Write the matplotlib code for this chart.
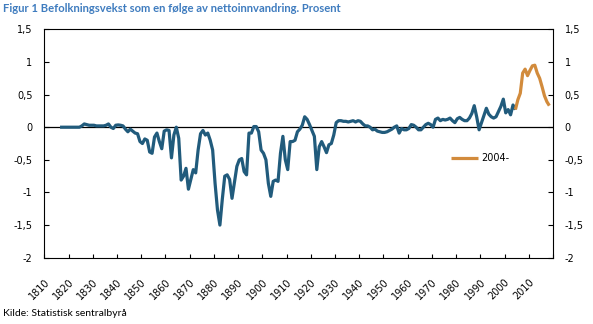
import matplotlib
matplotlib.use("Agg")
import matplotlib.pyplot as plt
import numpy as np

# Befolkningsvekst som følge av nettoinnvandring, prosent per år
years_hist = list(range(1816, 2005))
growth_hist = [
    # 1816-1829
    0.0, 0.0, 0.0, 0.0, 0.0, 0.0, 0.0, 0.0, 0.0, 0.02, 0.05, 0.04, 0.03, 0.03,
    # 1830-1839
    0.03, 0.02, 0.02, 0.02, 0.02, 0.03, 0.05, 0.0, -0.02, 0.03,
    # 1840-1849
    0.035, 0.03, 0.02, -0.03, -0.07, -0.03, -0.06, -0.09, -0.10, -0.22,
    # 1850-1859
    -0.25, -0.18, -0.20, -0.38, -0.40, -0.15, -0.09, -0.22, -0.33, -0.06,
    # 1860-1869
    -0.04, -0.05, -0.47, -0.12, 0.0, -0.17, -0.81, -0.75, -0.63, -0.95,
    # 1870-1879
    -0.80, -0.65, -0.70, -0.35, -0.10, -0.05, -0.12, -0.09, -0.20, -0.35,
    # 1880-1889
    -0.86, -1.27, -1.50, -1.10, -0.75, -0.73, -0.80, -1.09, -0.85, -0.60,
    # 1890-1899
    -0.50, -0.48, -0.68, -0.73, -0.09, -0.09, 0.01, 0.01, -0.07, -0.35,
    # 1900-1909
    -0.40, -0.50, -0.86, -1.06, -0.83, -0.81, -0.83, -0.40, -0.14, -0.50,
    # 1910-1919
    -0.65, -0.22, -0.22, -0.20, -0.07, -0.03, 0.03, 0.16, 0.12, 0.04,
    # 1920-1929
    -0.05, -0.14, -0.65, -0.30, -0.22, -0.30, -0.39, -0.27, -0.25, -0.12,
    # 1930-1939
    0.07, 0.10, 0.10, 0.09, 0.09, 0.08, 0.09, 0.10, 0.08, 0.10,
    # 1940-1949
    0.09, 0.05, 0.02, 0.02, 0.0, -0.04, -0.03, -0.06, -0.07, -0.08,
    # 1950-1959
    -0.08, -0.07, -0.05, -0.03, 0.0, 0.02, -0.09, -0.02, -0.04, -0.04,
    # 1960-1969
    -0.02, 0.04, 0.03, 0.0, -0.04, -0.04, 0.0, 0.04, 0.06, 0.04,
    # 1970-1979
    0.0, 0.12, 0.14, 0.10, 0.12, 0.11, 0.12, 0.14, 0.10, 0.07,
    # 1980-1989
    0.13, 0.15, 0.12, 0.10, 0.10, 0.14, 0.21, 0.33, 0.16, -0.04,
    # 1990-1999
    0.07, 0.18, 0.29, 0.20, 0.16, 0.14, 0.16, 0.24, 0.32, 0.43,
    # 2000-2004
    0.22, 0.27, 0.19, 0.34, 0.27,
]
years_recent = list(range(2004, 2019))
growth_recent = [0.27, 0.42, 0.52, 0.83, 0.89, 0.79, 0.87, 0.94, 0.95,
                 0.83, 0.75, 0.62, 0.48, 0.39, 0.33]

x_ticks = list(range(1810, 2021, 10))
label_years = list(range(1810, 2011, 10))
x_labels = [str(y) for y in label_years]
y_ticks = [-2, -1.5, -1, -0.5, 0, 0.5, 1, 1.5]
y_labels = ["-2", "-1,5", "-1", "-0,5", "0", "0,5", "1", "1,5"]

blue = "#215B7C"
orange = "#D28B3C"

fig = plt.figure(figsize=(5.93, 3.24), dpi=100)
ax = fig.add_axes([0.0747, 0.2046, 0.8578, 0.7049])

# categories sit between the tick marks
ax.plot(np.array(years_hist) + 0.5, growth_hist, color=blue, lw=2.3,
        solid_joinstyle="round", solid_capstyle="butt")
ax.plot(np.array(years_recent) + 0.5, growth_recent, color=orange, lw=2.3,
        solid_joinstyle="round", solid_capstyle="butt", label="2004-")
ax.axhline(0, color="black", lw=0.9, zorder=1)

ax.set_xlim(1810, 2020)
ax.set_ylim(-2, 1.5)

# tick marks on the major ticks, year labels on minor ticks nudged right
ax.set_xticks(x_ticks)
ax.set_xticklabels([])
ax.set_xticks([y + 1.4 for y in label_years], minor=True)
ax.set_xticklabels(x_labels, minor=True, rotation=45, ha="right",
                   va="center", rotation_mode="anchor", fontsize=7)
ax.tick_params(axis="x", which="major", direction="in", length=3, width=0.8)
ax.tick_params(axis="x", which="minor", length=0, pad=16.5)

ax.set_yticks(y_ticks)
ax.set_yticklabels(y_labels, fontsize=7)
ax.tick_params(axis="y", direction="in", length=3.6, width=0.8, pad=8.5,
               right=True, labelright=True)
for s in ax.spines.values():
    s.set_linewidth(0.8)

fig.legend(loc="center left", bbox_to_anchor=(451 / 593, 1 - 158 / 324),
           frameon=False, fontsize=7, handlelength=2.8, handletextpad=0.3,
           borderpad=0, borderaxespad=0)

fig.text(2.7 / 593, 1 - 9 / 324,
         "Figur 1 Befolkningsvekst som en følge av nettoinnvandring. Prosent",
         fontsize=8.1, fontweight="bold", family="Lato", color="#3F7CBF",
         va="center", ha="left")
fig.text(2.7 / 593, 1 - 313 / 324, "Kilde: Statistisk sentralbyrå",
         fontsize=7.5, family="Lato", va="center", ha="left")

fig.savefig("out.png", dpi=100)
